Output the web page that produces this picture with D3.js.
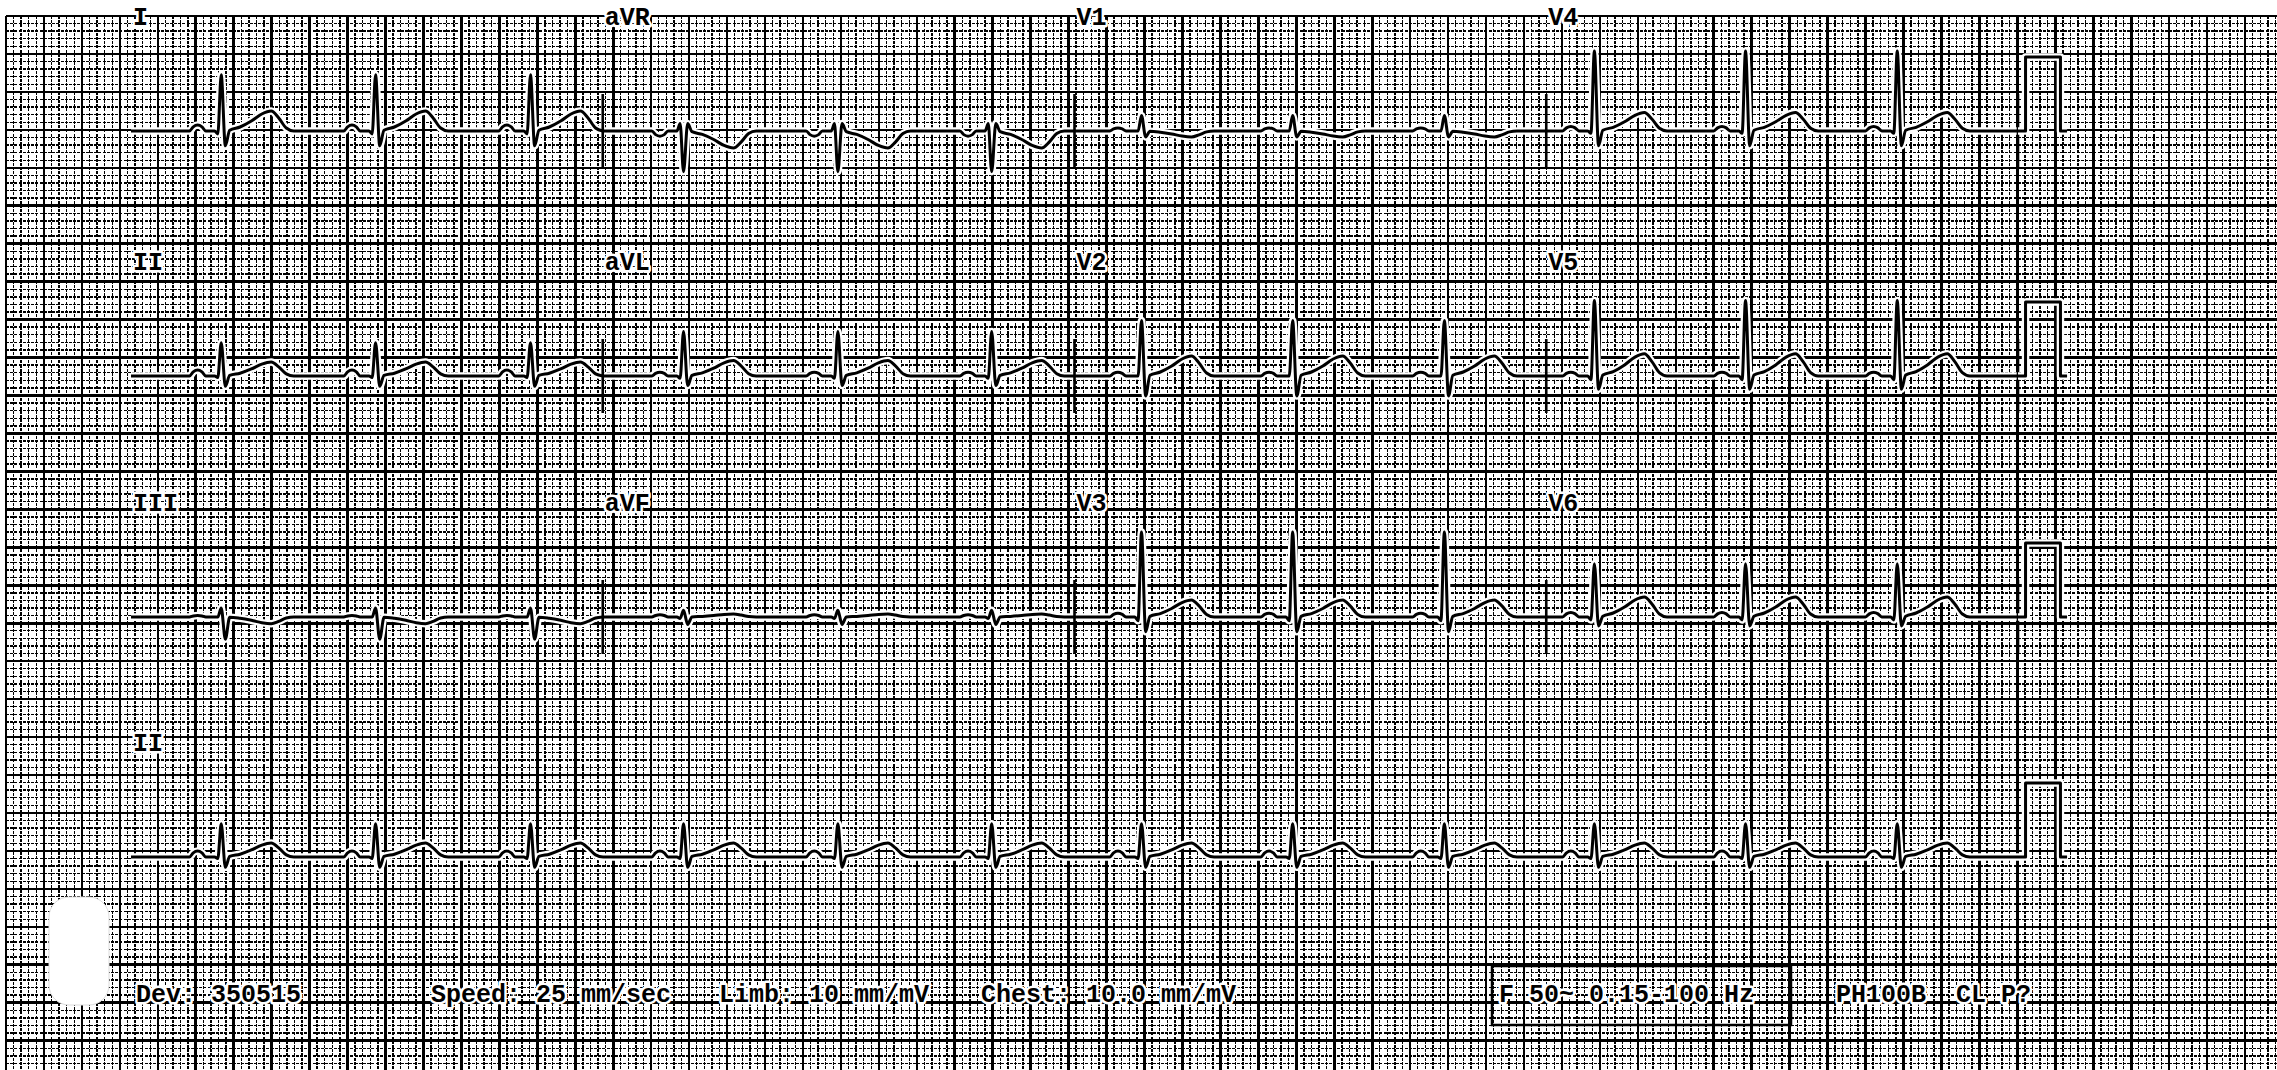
<!DOCTYPE html>
<html>
<head>
<meta charset="utf-8">
<script src="https://cdn.jsdelivr.net/npm/d3@7"></script>
<style>
  html, body { margin: 0; padding: 0; background: #fff; }
  svg { display: block; }
  .txt {
    font-family: "Liberation Mono", "DejaVu Sans Mono", monospace;
    font-weight: bold;
    font-size: 25px;
    fill: #000;
    stroke: #fff;
    stroke-width: 5px;
    stroke-linejoin: round;
    paint-order: stroke;
  }
</style>
</head>
<body>
<svg id="ecg" width="2277" height="1070"></svg>
<script>
const WIDTH = 2277;
const HEIGHT = 1070;

// R peak times in seconds
const beatTimes = [0.478, 1.296, 2.117, 2.928, 3.746, 4.561, 5.355, 6.156, 6.960, 7.755, 8.556, 9.360];

// wave heights in mV for each lead
const leadNames = ["I", "II", "III", "aVR", "aVL", "aVF", "V1", "V2", "V3", "V4", "V5", "V6"];
const pAmp = [0.08, 0.08, 0.02, -0.07, 0.05, 0.03, 0.04, 0.05, 0.05, 0.06, 0.05, 0.06];
const qAmp = [-0.04, -0.02, 0.00, 0.10, -0.03, -0.02, 0.00, 0.00, -0.05, -0.03, -0.05, -0.04];
const rAmp = [0.76, 0.45, 0.12, -0.55, 0.60, 0.09, 0.21, 0.75, 1.15, 1.08, 1.02, 0.72];
const sAmp = [-0.20, -0.14, -0.30, 0.10, -0.13, -0.10, -0.08, -0.27, -0.20, -0.20, -0.18, -0.12];
const tAmp = [0.27, 0.19, -0.09, -0.23, 0.21, 0.04, -0.08, 0.27, 0.23, 0.25, 0.30, 0.27];

// beat shape: time from the R peak (s), which wave the knot belongs to, and its share of that wave
const shapeOffsets = [-0.20, -0.168, -0.148, -0.125, -0.102, -0.082, -0.035, -0.018, 0, 0.022, 0.045, 0.10, 0.16, 0.215, 0.265, 0.305, 0.345, 0.385];
const shapeWave = ["-", "-", "P", "P", "P", "-", "-", "Q", "R", "S", "T", "T", "T", "T", "T", "T", "T", "-"];
const shapeShare = [0, 0, 0.7, 1, 0.7, 0, 0, 1, 1, 1, 0.04, 0.2, 0.5, 0.85, 1, 0.65, 0.15, 0];

// 4 columns x 3 rows, then the rhythm strip
const layoutRows = [["I", "aVR", "V1", "V4"], ["II", "aVL", "V2", "V5"], ["III", "aVF", "V3", "V6"]];
const rhythmLead = "II";
const rowBaselines = [131, 376, 617, 857];

// 1 mV calibration pulse after the traces
const calTimes = [10, 10.04, 10.04, 10.225, 10.225, 10.26];
const calLevels = [0, 0, 1, 1, 0, 0];

// footer texts
const footerTexts = ["Dev: 350515", "Speed: 25 mm/sec", "Limb: 10 mm/mV", "Chest: 10.0 mm/mV", "F 50~ 0.15-100 Hz", "PH100B  CL P?"];
const footerX = [136, 431, 719, 981, 1499, 1836];

const COL_SEC = 2.5;
const PX_PER_MV = 74;

const svg = d3.select("#ecg");

// ---------- grid paper ----------
const gridX0 = 6, gridY0 = 16, MM = 7.59;
const mmX = d3.scaleLinear().domain([0, 1]).range([gridX0, gridX0 + MM]);
const mmY = d3.scaleLinear().domain([0, 1]).range([gridY0, gridY0 + MM]);
const nx = Math.floor((WIDTH - gridX0) / MM);
const ny = Math.floor((HEIGHT - gridY0) / MM);

const grid = svg.append("g").attr("shape-rendering", "crispEdges");

grid.selectAll("line.mv")
    .data(d3.range(0, nx + 1).filter(i => i % 5 !== 0))
    .join("line")
    .attr("x1", d => mmX(d)).attr("x2", d => mmX(d))
    .attr("y1", gridY0).attr("y2", HEIGHT)
    .attr("stroke", "#000").attr("stroke-width", 1.4).attr("stroke-dasharray", "3,1.2");

grid.selectAll("line.mh")
    .data(d3.range(0, ny + 1).filter(i => i % 5 !== 0))
    .join("line")
    .attr("y1", d => mmY(d)).attr("y2", d => mmY(d))
    .attr("x1", gridX0).attr("x2", WIDTH)
    .attr("stroke", "#000").attr("stroke-width", 1.4).attr("stroke-dasharray", "3,1.2");

grid.append("g").selectAll("line")
    .data(d3.range(0, nx + 1, 5))
    .join("line")
    .attr("x1", d => mmX(d)).attr("x2", d => mmX(d))
    .attr("y1", gridY0).attr("y2", HEIGHT)
    .attr("stroke", "#000").attr("stroke-width", 2.6);

grid.append("g").selectAll("line")
    .data(d3.range(0, ny + 1, 5))
    .join("line")
    .attr("y1", d => mmY(d)).attr("y2", d => mmY(d))
    .attr("x1", gridX0).attr("x2", WIDTH)
    .attr("stroke", "#000").attr("stroke-width", 2.6);

// ---------- traces ----------
const x = d3.scaleLinear().domain([0, 10]).range([131, 2018]);

function rowScale(base) {
    return d3.scaleLinear().domain([-1, 1]).range([base + PX_PER_MV, base - PX_PER_MV]);
}

function waveAmp(i, w) {
    if (w === "P") return pAmp[i];
    if (w === "Q") return qAmp[i];
    if (w === "R") return rAmp[i];
    if (w === "S") return sAmp[i];
    if (w === "T") return tAmp[i];
    return 0;
}

function leadPoints(name, t0, t1) {
    const i = leadNames.indexOf(name);
    const pts = [[t0, 0]];
    beatTimes.forEach(b => {
        shapeOffsets.forEach((o, k) => {
            const t = b + o;
            if (t <= t0 || t >= t1) return;
            pts.push([t, waveAmp(i, shapeWave[k]) * shapeShare[k]]);
        });
    });
    pts.push([t1, 0]);
    return pts.sort((a, b) => a[0] - b[0]);
}

const traces = svg.append("g");

function drawTrace(points, y, curve) {
    const line = d3.line().x(d => x(d[0])).y(d => y(d[1])).curve(curve);
    traces.append("path").attr("d", line(points))
        .attr("fill", "none").attr("stroke", "#fff").attr("stroke-width", 7.5)
        .attr("stroke-linejoin", "round");
    traces.append("path").attr("d", line(points))
        .attr("fill", "none").attr("stroke", "#000").attr("stroke-width", 3)
        .attr("stroke-linejoin", "round");
}

function drawCal(y) {
    drawTrace(calTimes.map((t, k) => [t, calLevels[k]]), y, d3.curveLinear);
}

function drawLabel(name, xPos, base) {
    svg.append("text").attr("class", "txt")
        .attr("x", xPos).attr("y", base - 106)
        .text(name);
}

layoutRows.forEach((row, r) => {
    const y = rowScale(rowBaselines[r]);
    row.forEach((name, c) => {
        const t0 = c * COL_SEC, t1 = (c + 1) * COL_SEC;
        drawTrace(leadPoints(name, t0, t1), y, d3.curveMonotoneX);
        drawLabel(name, x(t0) + 2, rowBaselines[r]);
    });
    // lead change markers
    [1, 2, 3, 4].forEach(c => {
        traces.append("line")
            .attr("x1", x(c * COL_SEC)).attr("x2", x(c * COL_SEC))
            .attr("y1", y(0.5)).attr("y2", y(-0.5))
            .attr("stroke", "#000").attr("stroke-width", 2.6);
    });
    drawCal(y);
});

const yRhythm = rowScale(rowBaselines[3]);
drawTrace(leadPoints(rhythmLead, 0, 10), yRhythm, d3.curveMonotoneX);
drawLabel(rhythmLead, x(0) + 2, rowBaselines[3]);
drawCal(yRhythm);

// ---------- footer ----------
svg.append("rect")
    .attr("x", 49).attr("y", 897).attr("width", 60).attr("height", 108)
    .attr("rx", 20).attr("fill", "#fff").attr("stroke", "#ddd").attr("stroke-width", 1);

svg.append("rect")
    .attr("x", 1492).attr("y", 966).attr("width", 299).attr("height", 59)
    .attr("fill", "none").attr("stroke", "#000").attr("stroke-width", 2.5);

svg.append("g").selectAll("text")
    .data(footerTexts)
    .join("text")
    .attr("class", "txt")
    .attr("x", (d, i) => footerX[i])
    .attr("y", 1002)
    .attr("xml:space", "preserve")
    .style("white-space", "pre")
    .text(d => d);
</script>
</body>
</html>
